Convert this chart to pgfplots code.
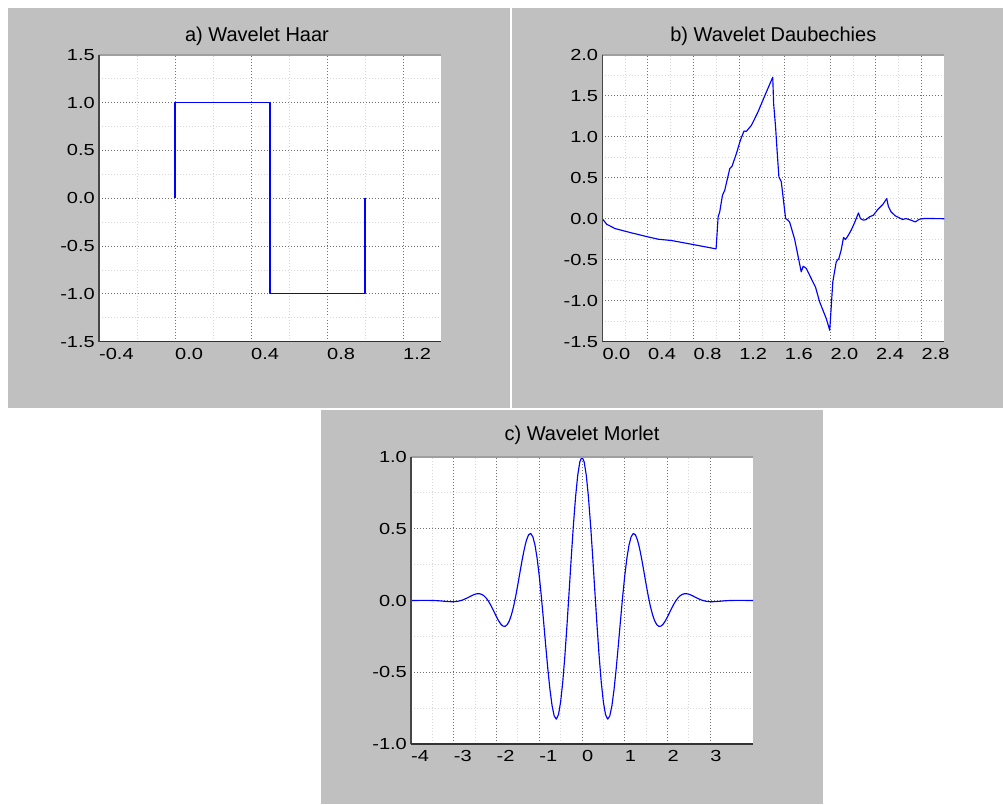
\documentclass[border=0pt]{standalone}
\usepackage{fontspec}
\setmainfont{Liberation Sans}
\newfontfamily\tickfont[FakeStretch=1.25]{Liberation Sans}
\usepackage{pgfplots}
\pgfplotsset{compat=1.18}
\usepackage{pgfplotstable}
\definecolor{bgray}{HTML}{C0C0C0}
\definecolor{majg}{HTML}{707070}
\definecolor{ming}{HTML}{D8D8D8}

\pgfplotstableread{
x y
0 0
0 1
0.5 1
0.5 -1
1 -1
1 0
}\haar

\pgfplotstableread{
x y
0.000 0.000
0.038 -0.067
0.111 -0.120
0.243 -0.168
0.374 -0.213
0.490 -0.250
0.607 -0.266
0.797 -0.315
0.998 -0.368
1.016 0.022
1.030 0.083
1.054 0.286
1.074 0.347
1.118 0.611
1.138 0.640
1.176 0.794
1.211 0.956
1.243 1.069
1.264 1.066
1.308 1.139
1.365 1.300
1.424 1.496
1.495 1.725
1.503 1.400
1.520 1.118
1.532 0.855
1.549 0.510
1.570 0.450
1.608 0.002
1.628 -0.018
1.643 -0.040
1.687 -0.250
1.745 -0.648
1.762 -0.580
1.789 -0.606
1.812 -0.670
1.847 -0.770
1.871 -0.838
1.906 -1.013
1.964 -1.216
1.995 -1.360
2.008 -1.074
2.022 -0.770
2.052 -0.526
2.075 -0.485
2.095 -0.384
2.116 -0.229
2.133 -0.253
2.153 -0.213
2.183 -0.140
2.212 -0.051
2.247 0.071
2.264 0.002
2.291 -0.018
2.314 -0.010
2.343 0.022
2.378 0.043
2.416 0.112
2.460 0.173
2.495 0.245
2.509 0.152
2.533 0.083
2.571 0.034
2.606 0.010
2.635 -0.010
2.664 0.002
2.708 -0.018
2.746 -0.039
2.781 -0.006
2.825 0.002
2.897 0.002
3.000 0.000
}\daub

\pgfplotstableread{
x y
-4.00 0.0001
-3.70 0.0010
-3.50 0.0005
-3.40 -0.0009
-3.30 -0.0030
-3.20 -0.0057
-3.10 -0.0080
-3.00 -0.0084
-2.90 -0.0053
-2.80 0.0027
-2.70 0.0155
-2.60 0.0309
-2.55 0.0381
-2.50 0.0438
-2.45 0.0473
-2.40 0.0474
-2.35 0.0432
-2.30 0.0342
-2.25 0.0201
-2.20 0.0004
-2.15 -0.0242
-2.10 -0.0524
-2.05 -0.0830
-2.00 -0.1136
-1.95 -0.1416
-1.90 -0.1640
-1.85 -0.1781
-1.80 -0.1803
-1.75 -0.1688
-1.70 -0.1419
-1.65 -0.0990
-1.60 -0.0405
-1.55 0.0313
-1.50 0.1125
-1.45 0.1985
-1.40 0.2829
-1.35 0.3590
-1.30 0.4195
-1.25 0.4576
-1.20 0.4674
-1.15 0.4445
-1.10 0.3870
-1.05 0.2951
-1.00 0.1720
-0.95 0.0239
-0.90 -0.1406
-0.85 -0.3108
-0.80 -0.4746
-0.75 -0.6194
-0.70 -0.7330
-0.65 -0.8048
-0.60 -0.8269
-0.55 -0.7946
-0.50 -0.7070
-0.45 -0.5677
-0.40 -0.3842
-0.35 -0.1677
-0.30 0.0676
-0.25 0.3056
-0.20 0.5296
-0.15 0.7235
-0.10 0.8732
-0.05 0.9677
0.00 1.0000
0.05 0.9677
0.10 0.8732
0.15 0.7235
0.20 0.5296
0.25 0.3056
0.30 0.0676
0.35 -0.1677
0.40 -0.3842
0.45 -0.5677
0.50 -0.7070
0.55 -0.7946
0.60 -0.8269
0.65 -0.8048
0.70 -0.7330
0.75 -0.6194
0.80 -0.4746
0.85 -0.3108
0.90 -0.1406
0.95 0.0239
1.00 0.1720
1.05 0.2951
1.10 0.3870
1.15 0.4445
1.20 0.4674
1.25 0.4576
1.30 0.4195
1.35 0.3590
1.40 0.2829
1.45 0.1985
1.50 0.1125
1.55 0.0313
1.60 -0.0405
1.65 -0.0990
1.70 -0.1419
1.75 -0.1688
1.80 -0.1803
1.85 -0.1781
1.90 -0.1640
1.95 -0.1416
2.00 -0.1136
2.05 -0.0830
2.10 -0.0524
2.15 -0.0242
2.20 0.0004
2.25 0.0201
2.30 0.0342
2.35 0.0432
2.40 0.0474
2.45 0.0473
2.50 0.0438
2.55 0.0381
2.60 0.0309
2.70 0.0155
2.80 0.0027
2.90 -0.0053
3.00 -0.0084
3.10 -0.0080
3.20 -0.0057
3.30 -0.0030
3.40 -0.0009
3.50 0.0005
3.70 0.0010
4.00 0.0001
}\morlet

\pgfplotsset{
  wave/.style={
    width=342pt, height=287pt, scale only axis,
    anchor=south west,
    clip=false,
    axis background/.style={fill=white},
    axis line style={draw=none},
    tick style={draw=none},
    grid=both,
    minor tick num=1,
    major grid style={color=majg, line width=0.9pt, dash pattern=on 1pt off 2pt},
    minor grid style={color=ming, line width=0.8pt, dash pattern=on 1pt off 2pt},
    xticklabel style={font=\tickfont\fontsize{16}{18}\selectfont, anchor=north west, inner sep=0pt, yshift=-6.5pt, text=black},
    yticklabel style={font=\tickfont\fontsize{16}{18}\selectfont, anchor=east, inner sep=0pt, xshift=-4pt, text=black},
    title style={font=\fontsize{20}{24}\selectfont, anchor=base, at={(0.5,1)}, yshift=7.7pt, text=black},
    cycle list={{blue}},
    every axis plot/.append style={line width=1.15pt, line join=round},
    no markers,
    after end axis/.code={
      \draw[color=gray!75, line width=1.7pt] (rel axis cs:0,1) -- (rel axis cs:1,1);
      \draw[color=gray!55!black, line width=1.5pt] (rel axis cs:0,0) -- (rel axis cs:0,1);
      \draw[color=black!80, line width=1.5pt] (rel axis cs:0,0) -- (rel axis cs:1,0);
    },
  }
}

\begin{document}
\begin{tikzpicture}
\path[use as bounding box, fill=white] (0pt,0pt) rectangle (1003pt,-804pt);
\fill[bgray] (8pt,-8pt) rectangle (510pt,-407.5pt);
\fill[bgray] (512pt,-8pt) rectangle (1003pt,-407.5pt);
\fill[bgray] (321pt,-410pt) rectangle (823pt,-804pt);

\begin{axis}[wave, at={(99pt,-341.7pt)},
  xmin=-0.4, xmax=1.4, ymin=-1.5, ymax=1.5,
  xtick={-0.4,0,0.4,0.8,1.2}, xticklabels={-0.4,0.0,0.4,0.8,1.2},
  ytick={-1.5,-1,-0.5,0,0.5,1,1.5}, yticklabels={-1.5,-1.0,-0.5,0.0,0.5,1.0,1.5},
  title={a) Wavelet Haar}, title style={xshift=-13pt}]
\addplot table[x=x,y=y] {\haar};
\end{axis}

\begin{axis}[wave, at={(602.3pt,-341.7pt)},
  xmin=0, xmax=3.0, ymin=-1.5, ymax=2.0,
  xtick={0,0.4,0.8,1.2,1.6,2.0,2.4,2.8}, xticklabels={0.0,0.4,0.8,1.2,1.6,2.0,2.4,2.8},
  ytick={-1.5,-1,-0.5,0,0.5,1,1.5,2}, yticklabels={-1.5,-1.0,-0.5,0.0,0.5,1.0,1.5,2.0},
  title={b) Wavelet Daubechies}]
\addplot table[x=x,y=y] {\daub};
\end{axis}

\begin{axis}[wave, at={(411pt,-744pt)},
  xmin=-4, xmax=4, ymin=-1, ymax=1,
  xtick={-4,-3,-2,-1,0,1,2,3}, xticklabels={-4,-3,-2,-1,0,1,2,3},
  ytick={-1,-0.5,0,0.5,1}, yticklabels={-1.0,-0.5,0.0,0.5,1.0},
  title={c) Wavelet Morlet}, title style={yshift=2.9pt}]
\addplot table[x=x,y=y] {\morlet};
\end{axis}
\end{tikzpicture}
\end{document}
